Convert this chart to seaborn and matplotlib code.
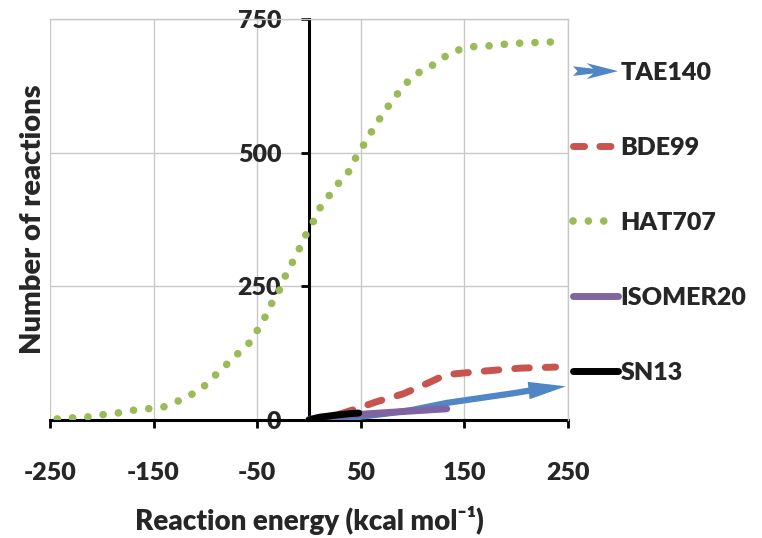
import matplotlib
matplotlib.use("Agg")
import matplotlib.pyplot as plt
import seaborn as sns
from matplotlib.legend_handler import HandlerBase
from matplotlib.lines import Line2D
from matplotlib.patches import Polygon

# Series (x = reaction energy, y = number of reactions)
hat_x = [-243, -228, -213, -199, -185, -171, -156, -141, -128, -115, -104, -94, -85,
         -75, -65, -55, -49, -42, -36, -29, -24, -18, -11, -6, 1, 7, 13, 22, 30, 39,
         45, 52, 59, 66, 74, 82, 91, 99, 111, 124, 134, 147, 161, 176, 190, 205, 219, 234]
hat_y = [2, 4, 6, 10, 13, 18, 21, 24, 34, 46, 58, 77, 94,
         112, 131, 149, 171, 194, 218, 241, 265, 288, 312, 337, 359, 382, 406, 425, 447, 466,
         490, 512, 535, 557, 580, 602, 623, 641, 656, 668, 684, 694, 699, 700, 703, 705, 706, 707]

bde_x = [0, 20, 44, 65, 91, 117, 130, 139, 172, 204, 238]
bde_y = [0, 5, 20, 34, 49, 71, 83, 86, 92, 97, 99]

tae_x = [0, 25, 49, 75, 100, 133, 165, 197, 216, 232]
tae_y = [0, 2, 6, 12, 19, 32, 41, 50, 56, 60]

iso_x = [0, 10, 30, 60, 100, 133]
iso_y = [1, 5, 8, 12, 17, 21]

sn_x = [0, 10, 25, 40, 48]
sn_y = [0, 5, 9, 12, 13]

x_ticks = [-250, -150, -50, 50, 150, 250]
y_ticks = [0, 250, 500, 750]

blue = "#4F86C6"
red = "#C9544F"
green = "#9BBB59"
purple = "#8064A2"
black = "#000000"

sns.set_style("white")
plt.rcParams["font.family"] = ["Lato", "DejaVu Sans"]
plt.rcParams["font.weight"] = "heavy"
plt.rcParams["axes.unicode_minus"] = False


class ArrowHandler(HandlerBase):
    # legend key drawn as a tapered arrow like the reference
    def create_artists(self, legend, orig_handle, xdescent, ydescent,
                       width, height, fontsize, trans):
        y = height / 2 - ydescent
        x0 = -xdescent
        h = fontsize * 0.32
        pts = [(x0, y + h * 0.6), (x0 + width * 0.45, y + h * 0.3),
               (x0 + width * 0.3, y + h), (x0 + width, y),
               (x0 + width * 0.3, y - h), (x0 + width * 0.45, y - h * 0.3),
               (x0, y - h * 0.6), (x0 + width * 0.1, y)]
        poly = Polygon(pts, closed=True, facecolor=orig_handle.get_color(),
                       edgecolor="none", transform=trans)
        return [poly]


fig = plt.figure(figsize=(7.62, 5.38), dpi=100)
ax = fig.add_axes([0.0656, 0.2193, 0.6798, 0.7454])

sns.lineplot(x=hat_x, y=hat_y, ax=ax, color=green, lw=5.5,
             linestyle=(0, (0.01, 2.0)), dash_capstyle="round", sort=False)
sns.lineplot(x=bde_x, y=bde_y, ax=ax, color=red, lw=5,
             linestyle=(0, (2.1, 2.3)), dash_capstyle="round", sort=False)
sns.lineplot(x=tae_x, y=tae_y, ax=ax, color=blue, lw=4.5,
             solid_capstyle="round", sort=False)
ax.annotate("", xy=(tae_x[-1] + 16, tae_y[-1] + 3), xytext=(tae_x[-2], tae_y[-2]),
            arrowprops=dict(arrowstyle="-|>,head_length=1.5,head_width=0.35",
                            color=blue, lw=0, mutation_scale=18, shrinkA=0, shrinkB=0))
sns.lineplot(x=iso_x, y=iso_y, ax=ax, color=purple, lw=5,
             solid_capstyle="round", sort=False)
sns.lineplot(x=sn_x, y=sn_y, ax=ax, color=black, lw=5,
             solid_capstyle="round", sort=False)

ax.set_xlim(-250, 250)
ax.set_ylim(0, 750)
ax.set_xticks(x_ticks)
ax.set_yticks(y_ticks)
ax.grid(True, color="#C8C8C8", lw=1)
ax.set_axisbelow(True)

ax.spines["left"].set_position(("data", 0))
ax.spines["bottom"].set_position(("data", 0))
for s in ["left", "bottom"]:
    ax.spines[s].set_color("black")
    ax.spines[s].set_linewidth(2.2)
    ax.spines[s].set_zorder(1.5)
for s in ["top", "right"]:
    ax.spines[s].set_color("#C8C8C8")
    ax.spines[s].set_linewidth(1)

ax.tick_params(axis="x", bottom=True, direction="out", length=6, width=2,
               color="black", pad=24, labelsize=18)
ax.tick_params(axis="y", left=True, direction="out", length=6, width=2,
               color="black", pad=14, labelsize=18)
for lbl in ax.get_xticklabels() + ax.get_yticklabels():
    lbl.set_fontweight("heavy")

ax.set_xlabel("Reaction energy (kcal mol\u207b\u00b9)", fontsize=20, fontweight="heavy")
ax.set_ylabel("Number of reactions", fontsize=21, fontweight="heavy")
ax.xaxis.set_label_coords(0.5, -0.215)
ax.yaxis.set_label_coords(-0.008, 0.5)

handles = [
    Line2D([], [], color=blue),
    Line2D([], [], color=red, lw=5, linestyle=(0, (1.6, 2.2)), dash_capstyle="round"),
    Line2D([], [], color=green, lw=5.5, linestyle=(0, (0.01, 2.0)), dash_capstyle="round"),
    Line2D([], [], color=purple, lw=5, solid_capstyle="round"),
    Line2D([], [], color=black, lw=5, solid_capstyle="round"),
]
labels = ["TAE140", "BDE99", "HAT707", "ISOMER20", "SN13"]
leg = fig.legend(handles, labels, loc="upper left", bbox_to_anchor=(0.752, 0.885),
                 frameon=False, handlelength=1.8, handletextpad=0.1,
                 labelspacing=2.12, borderpad=0, borderaxespad=0,
                 prop={"size": 18, "weight": "heavy"},
                 handler_map={handles[0]: ArrowHandler()})

fig.savefig("out.png", dpi=100)
